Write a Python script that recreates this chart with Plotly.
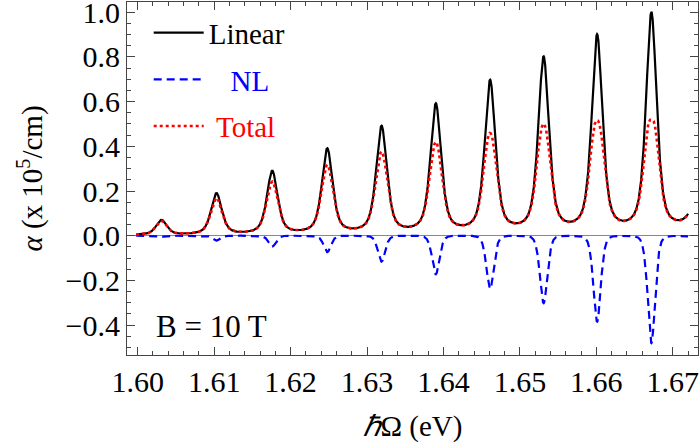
import numpy as np
import plotly.graph_objects as go

# Peak parameters (eV and 10^5/cm)
peak_centers = [1.6031, 1.6103, 1.6176, 1.6248, 1.6319, 1.6390, 1.6461, 1.6531, 1.6601, 1.6672, 1.6743]
linear_heights = [0.068, 0.186, 0.284, 0.382, 0.481, 0.579, 0.682, 0.785, 0.883, 0.982, 1.08]
nl_depths = [0.005, 0.022, 0.049, 0.074, 0.116, 0.173, 0.238, 0.302, 0.385, 0.481, 0.58]
half_width = 0.00083   # HWHM of the resonances (eV)
lorentz_fraction = 0.6  # pseudo-Voigt mixing read from the tail depth

x_start, x_end = 1.5998, 1.6720
x_ticks = [1.60, 1.61, 1.62, 1.63, 1.64, 1.65, 1.66, 1.67]
y_ticks = [-0.4, -0.2, 0.0, 0.2, 0.4, 0.6, 0.8, 1.0]

x = np.linspace(x_start, x_end, 4000)
linear = np.zeros_like(x)
nl = np.zeros_like(x)
for c, h, d in zip(peak_centers, linear_heights, nl_depths):
    u = (x - c) / half_width
    f = lorentz_fraction / (1 + u**2) + (1 - lorentz_fraction) * np.exp(-np.log(2) * u**2)
    linear += h * f
    nl -= d * f**2
total = linear + nl

FONT = "Liberation Serif, Times New Roman, serif"
fig = go.Figure()
fig.add_trace(go.Scatter(x=x, y=linear, mode="lines", name="Linear", legendgroup="a",
                         line=dict(color="black", width=2.2)))
fig.add_trace(go.Scatter(x=x, y=nl, mode="lines", legendgroup="b",
                         name="<span style='color:blue'>\u00a0\u00a0\u00a0NL</span>",
                         line=dict(color="blue", width=2.2, dash="8px,5px")))
fig.add_trace(go.Scatter(x=x, y=total, mode="lines", legendgroup="c",
                         name="<span style='color:red'>\u00a0Total</span>",
                         line=dict(color="red", width=2.6, dash="dot")))

axis_common = dict(showline=True, linecolor="#444", linewidth=1, mirror="ticks",
                   ticks="inside", tickcolor="#444", ticklen=8, tickwidth=1,
                   showgrid=False, automargin=False,
                   tickfont=dict(family=FONT, size=30, color="black"))
fig.update_xaxes(range=[1.5986, 1.6733], tickvals=x_ticks, tickformat=".2f",
                 minor=dict(dtick=0.002, tick0=1.60, ticks="inside", ticklen=4, tickcolor="#444"),
                 title=dict(text="<i>ℏ</i>Ω (eV)", font=dict(family=FONT, size=29, color="black"), standoff=18),
                 zeroline=False, ticklabeloverflow="allow", **axis_common)
fig.update_yaxes(range=[-0.534, 1.046], tickvals=y_ticks, tickformat=".1f",
                 minor=dict(dtick=0.05, tick0=0, ticks="inside", ticklen=4, tickcolor="#444"),
                 title=dict(text="<i>α</i> (x 10<sup>5</sup>/cm)", font=dict(family=FONT, size=29, color="black"), standoff=14),
                 zeroline=True, zerolinecolor="#888", zerolinewidth=1, ticklabeloverflow="allow", **axis_common)

fig.add_annotation(x=0.047, y=0.08, xref="paper", yref="paper", xanchor="left", yanchor="middle",
                   text="B = 10 T", showarrow=False, font=dict(family=FONT, size=31, color="black"))

fig.update_layout(
    width=699, height=447,
    margin=dict(l=127, r=1, t=2, b=92),
    paper_bgcolor="white", plot_bgcolor="white",
    showlegend=True,
    legend=dict(x=0.038, y=0.985, xanchor="left", yanchor="top", bgcolor="rgba(0,0,0,0)",
                font=dict(family=FONT, size=29, color="black"), traceorder="grouped",
                tracegroupgap=6, itemwidth=50),
)
fig.write_html("out.html", config={"displayModeBar": False},
               post_script="document.body.style.margin='0';document.body.style.overflow='hidden';")
